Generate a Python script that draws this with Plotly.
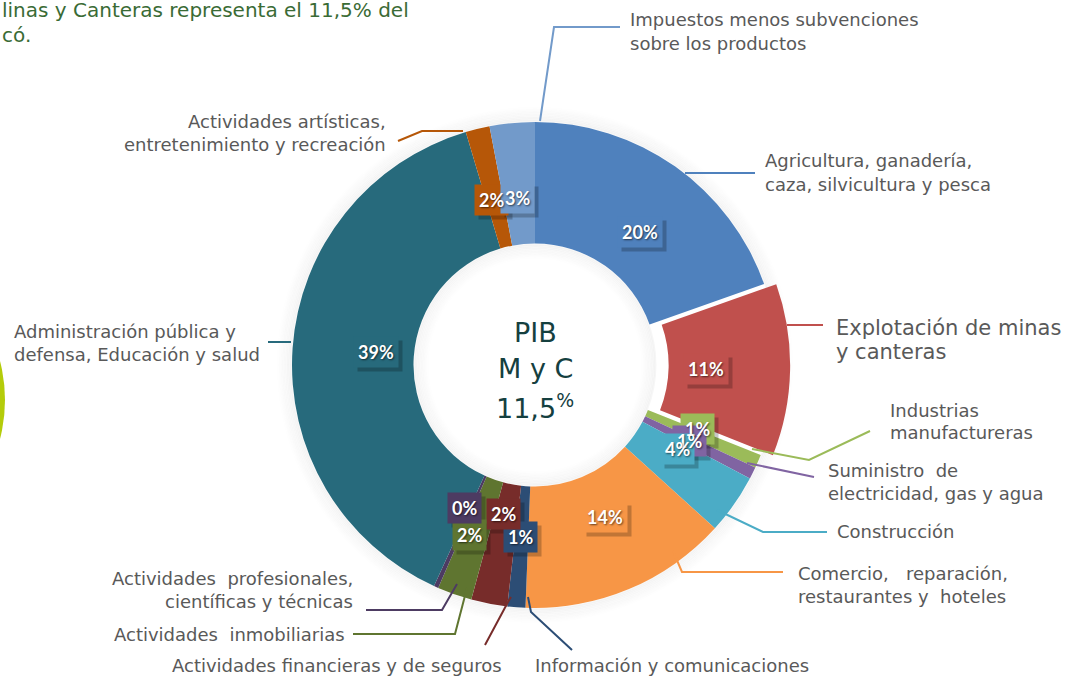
import math
import plotly.graph_objects as go

# ---------------- data ----------------
categories = [
    "Agricultura, ganadería, caza, silvicultura y pesca",
    "Explotación de minas y canteras",
    "Industrias manufactureras",
    "Suministro de electricidad, gas y agua",
    "Construcción",
    "Comercio, reparación, restaurantes y hoteles",
    "Información y comunicaciones",
    "Actividades financieras y de seguros",
    "Actividades inmobiliarias",
    "Actividades profesionales, científicas y técnicas",
    "Administración pública y defensa, Educación y salud",
    "Actividades artísticas, entretenimiento y recreación",
    "Impuestos menos subvenciones sobre los productos",
]
values = [19.6, 11.45, 0.9, 0.8, 4.0, 13.9, 1.2, 2.4, 2.3, 0.3, 38.6, 1.6, 3.0]
colors = ["#4F81BD", "#C0504D", "#9BBB59", "#8064A2", "#4BACC6", "#F79646",
          "#2C4D75", "#772C2A", "#5F7530", "#4D3B62", "#276A7C", "#B65708", "#729ACA"]
pulls = [0, 0.05, 0, 0, 0, 0, 0, 0, 0, 0, 0, 0, 0]

# ---------------- layout helpers ----------------
W, H = 1066, 678
CX, CY = 535, 365          # donut centre in pixels
R_OUT = 243                # outer radius in pixels
avail = 2 * R_OUT * (1 + max(pulls))


def X(px):
    return px / W


def Y(py):
    return 1 - py / H


fig = go.Figure()

# soft halo around the ring and inside the hole
shapes = []
for k in range(10):
    a = 0.035 * (1 - k / 10)
    r = R_OUT + 1 + k * 1.5
    shapes.append(dict(type="circle", xref="paper", yref="paper", layer="below",
                       x0=X(CX - r), x1=X(CX + r), y0=Y(CY + r), y1=Y(CY - r),
                       line=dict(color=f"rgba(0,0,0,{a:.3f})", width=2)))
R_IN = R_OUT * 0.5
for k in range(10):
    a = 0.035 * (1 - k / 10)
    r = R_IN - 1 - k * 1.5
    shapes.append(dict(type="circle", xref="paper", yref="paper", layer="below",
                       x0=X(CX - r), x1=X(CX + r), y0=Y(CY + r), y1=Y(CY - r),
                       line=dict(color=f"rgba(0,0,0,{a:.3f})", width=2)))

# green arc at the left edge
shapes.append(dict(type="circle", xref="paper", yref="paper", layer="below",
                   x0=X(-305), x1=X(5), y0=Y(400 + 155), y1=Y(400 - 155),
                   fillcolor="#B4CC0A", line=dict(width=0)))

fig.add_trace(go.Pie(
    labels=categories, values=values, hole=0.5, sort=False,
    direction="clockwise", rotation=0, pull=pulls,
    marker=dict(colors=colors, line=dict(width=0)),
    textinfo="none", hoverinfo="label+percent", showlegend=False,
    domain=dict(x=[X(CX - avail / 2), X(CX + avail / 2)],
                y=[Y(CY + avail / 2), Y(CY - avail / 2)]),
))

# ---------------- percentage labels ----------------
label_r = [182, 182, 176, 172, 174, 182, 189, 168, 197, 174, 182, 186, 184]
label_nudge = [(0, 0), (0, 0), (1, -6), (0, 0), (0, 0), (0, 0), (0, 0),
               (0, 0), (0, 0), (0, 0), (0, 0), (0, 0), (0, 0)]
total = sum(values)
shadow_boxes, colour_boxes, texts = [], [], []
cum = 0.0
for v, col, rr, p, (nx, ny) in zip(values, colors, label_r, pulls, label_nudge):
    mid = (cum + v / 2) / total * 2 * math.pi
    cum += v
    rr = rr + p * R_OUT
    px = CX + rr * math.sin(mid) + nx
    py = CY - rr * math.cos(mid) + ny
    txt = f"{round(v)}%"
    base = dict(x=X(px), y=Y(py), xref="paper", yref="paper", text=txt,
                showarrow=False, borderpad=4)
    shadow_boxes.append(dict(base, xshift=4, yshift=-4, bgcolor="rgba(0,0,0,0.22)",
                             font=dict(family="Lato", size=18, weight="bold",
                                       color="rgba(0,0,0,0.01)")))
    colour_boxes.append(dict(base, bgcolor=col,
                             font=dict(family="Lato", size=18, weight="bold",
                                       color="rgba(0,0,0,0.01)")))
    texts.append(dict(base, font=dict(family="Lato", size=18, weight="bold", color="white",
                                      shadow="1px 1px 2px rgba(0,0,0,0.6)")))
annotations = shadow_boxes + colour_boxes + texts

# ---------------- external labels & leader lines ----------------
ext = [
    (["Impuestos menos subvenciones", "sobre los productos"], 628, 20, "left", 18,
     [(540, 121), (554, 27), (620, 27)]),
    (["Agricultura, ganadería,", "caza, silvicultura y pesca"], 763, 161, "left", 18,
     [(685, 173), (755, 173)]),
    (["Explotación de minas", "y canteras"], 834, 328, "left", 21,
     [(787, 325), (823, 325)]),
    (["Industrias", "manufactureras"], 888, 410, "left", 18,
     [(752, 449), (809, 460), (870, 431)]),
    (["Suministro  de", "electricidad, gas y agua"], 826, 470, "left", 18,
     [(747, 463), (814, 477)]),
    (["Construcción"], 835, 531, "left", 18,
     [(717, 510), (763, 532), (827, 532)]),
    (["Comercio,\u00a0\u00a0 reparación,", "restaurantes y\u00a0 hoteles"], 796, 573, "left", 18,
     [(673, 551), (682, 572), (783, 572)]),
    (["Información y comunicaciones"], 533, 665, "left", 18,
     [(528, 597), (531, 612), (572, 650)]),
    (["Actividades financieras y de seguros"], 504, 665, "right", 18,
     [(511, 597), (508, 602), (485, 645)]),
    (["Actividades\u00a0 inmobiliarias"], 347, 634, "right", 18,
     [(467, 588), (455, 634), (353, 634)]),
    (["Actividades\u00a0 profesionales,", "científicas y técnicas"], 355, 578, "right", 18,
     [(457, 584), (442, 610), (366, 610)]),
    (["Administración pública y", "defensa, Educación y salud"], 12, 331, "left", 18,
     [(268, 342), (291, 342)]),
    (["Actividades artísticas,", "entretenimiento y recreación"], 388, 121, "right", 18,
     [(463, 131), (422, 131), (398, 141)]),
]
line_colors = [colors[12], colors[0], colors[1], colors[2], colors[3], colors[4], colors[5],
               colors[6], colors[7], colors[8], colors[9], colors[10], colors[11]]

for (lines, x, y0, anchor, size, path), lc in zip(ext, line_colors):
    gap = 24 if size > 18 else 23
    for i, ln in enumerate(lines):
        annotations.append(dict(x=X(x), y=Y(y0 + i * gap), xref="paper", yref="paper",
                                text=ln, showarrow=False, xanchor=anchor, yanchor="middle",
                                font=dict(family="DejaVu Sans", size=size, color="#595959")))
    d = "M " + " L ".join(f"{X(a):.5f},{Y(b):.5f}" for a, b in path)
    shapes.append(dict(type="path", path=d, xref="paper", yref="paper",
                       line=dict(color=lc, width=2)))

# centre text
center_lines = [("PIB", 332), ("M y C", 368)]
for t, yy in center_lines:
    annotations.append(dict(x=X(CX), y=Y(yy), xref="paper", yref="paper", text=t,
                            showarrow=False, yanchor="middle",
                            font=dict(family="DejaVu Sans", size=27, color="#15403F")))
annotations.append(dict(x=X(CX), y=Y(406), xref="paper", yref="paper",
                        text="11,5<sup style='font-size:17px'>%</sup>",
                        showarrow=False, yanchor="middle",
                        font=dict(family="DejaVu Sans", size=27, color="#15403F")))

# cropped text at top left
for t, yy in [("linas y Canteras representa el 11,5% del", 10), ("có.", 35)]:
    annotations.append(dict(x=0, y=Y(yy), xref="paper", yref="paper", text=t,
                            showarrow=False, xanchor="left", yanchor="middle",
                            font=dict(family="DejaVu Sans", size=20, color="#3A6B35")))

fig.update_layout(
    width=W, height=H, margin=dict(l=0, r=0, t=0, b=0),
    paper_bgcolor="white", plot_bgcolor="white",
    shapes=shapes, annotations=annotations,
)

fig.write_html("out.html")
